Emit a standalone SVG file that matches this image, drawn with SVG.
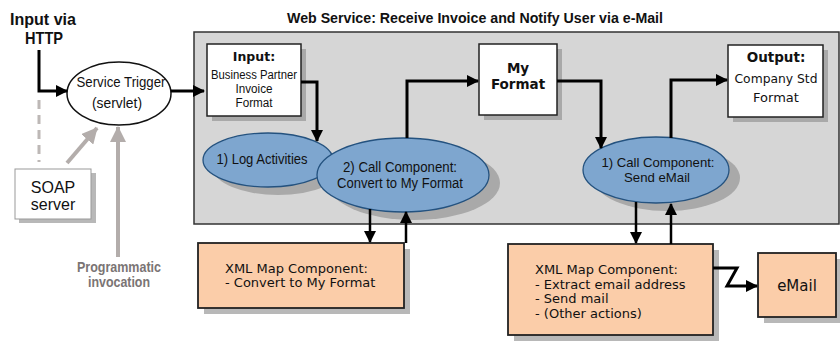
<svg xmlns="http://www.w3.org/2000/svg" width="840" height="341" viewBox="0 0 840 341">
<style>
.lbl{font-family:"Liberation Sans",Arial,sans-serif;fill:#111}
.ver{font-family:"DejaVu Sans",Verdana,sans-serif;fill:#111}
.box{fill:#fff;stroke:#222;stroke-width:1.5}
.obox{fill:#fbcda9;stroke:#222;stroke-width:1.8}
.sh{fill:#a9a9a9}
.shw{fill:#b8b8b8}
.ell{fill:#7ea6cf;stroke:#24527f;stroke-width:1.3}
.con{fill:none;stroke:#000;stroke-width:3}
.con2{fill:none;stroke:#000;stroke-width:2.5}
.gcon{fill:none;stroke:#b3adab;stroke-width:4}
</style>
<defs>
<marker id="ah" markerUnits="userSpaceOnUse" markerWidth="12" markerHeight="12" refX="11" refY="6" orient="auto"><path d="M0,0 L12,6 L0,12 z" fill="#000"/></marker>
<marker id="ahg" markerUnits="userSpaceOnUse" markerWidth="16" markerHeight="16" refX="15" refY="8" orient="auto"><path d="M0,0 L16,8 L0,16 z" fill="#b3adab"/></marker>
</defs>
<rect width="840" height="341" fill="#fff"/>
<g id="title">
<text class="lbl" x="287" y="23" font-size="15" font-weight="bold" textLength="376" lengthAdjust="spacingAndGlyphs">Web Service: Receive Invoice and Notify User via e-Mail</text>
</g>
<g id="panel">
<rect x="194" y="32" width="645" height="192" fill="#d6d6d6" stroke="#333" stroke-width="1.5"/>
</g>
<g id="input-http">
<text class="lbl" x="10" y="25" font-size="17" font-weight="bold" textLength="66" lengthAdjust="spacingAndGlyphs">Input via</text>
<text class="lbl" x="25" y="44" font-size="17" font-weight="bold" textLength="38" lengthAdjust="spacingAndGlyphs">HTTP</text>
</g>
<g id="service-trigger">
<ellipse cx="119" cy="93.5" rx="52" ry="31.5" fill="#fff" stroke="#111" stroke-width="1.5"/>
<text class="lbl" x="121" y="87" font-size="15" text-anchor="middle" textLength="89" lengthAdjust="spacingAndGlyphs">Service Trigger</text>
<text class="lbl" x="117" y="108" font-size="15" text-anchor="middle" textLength="50" lengthAdjust="spacingAndGlyphs">(servlet)</text>
</g>
<g id="soap-server">
<rect class="shw" x="19" y="173" width="77" height="50"/>
<rect x="15" y="169" width="76" height="50" fill="#fff" stroke="#999" stroke-width="1"/>
<text class="lbl" x="53" y="193" font-size="16" text-anchor="middle">SOAP</text>
<text class="lbl" x="53" y="210" font-size="16" text-anchor="middle">server</text>
</g>
<g id="programmatic">
<text class="lbl" x="119" y="272" font-size="14" font-weight="bold" text-anchor="middle" style="fill:#7a7474" textLength="84" lengthAdjust="spacingAndGlyphs">Programmatic</text>
<text class="lbl" x="119" y="287" font-size="14" font-weight="bold" text-anchor="middle" style="fill:#7a7474" textLength="62" lengthAdjust="spacingAndGlyphs">invocation</text>
</g>
<g id="input-box">
<rect class="sh" x="212" y="49" width="94" height="72"/>
<rect class="box" x="207" y="44" width="94" height="72"/>
<text class="ver" x="254" y="61" font-size="12.5" font-weight="bold" text-anchor="middle">Input:</text>
<text class="lbl" x="254" y="79" font-size="12" text-anchor="middle" textLength="86" lengthAdjust="spacingAndGlyphs">Business Partner</text>
<text class="lbl" x="254" y="93" font-size="12" text-anchor="middle" textLength="37" lengthAdjust="spacingAndGlyphs">Invoice</text>
<text class="lbl" x="254" y="107" font-size="12" text-anchor="middle" textLength="37" lengthAdjust="spacingAndGlyphs">Format</text>
</g>
<g id="my-format">
<rect class="sh" x="484" y="49" width="78" height="71"/>
<rect class="box" x="479" y="44" width="78" height="71"/>
<text class="ver" x="518" y="73" font-size="13.5" font-weight="bold" text-anchor="middle">My</text>
<text class="ver" x="518" y="89" font-size="13.5" font-weight="bold" text-anchor="middle">Format</text>
</g>
<g id="output-box">
<rect class="sh" x="733" y="50" width="95" height="72"/>
<rect class="box" x="728" y="45" width="95" height="72"/>
<text class="ver" x="776" y="62" font-size="13.5" font-weight="bold" text-anchor="middle">Output:</text>
<text class="ver" x="776" y="83" font-size="13" text-anchor="middle" textLength="83" lengthAdjust="spacingAndGlyphs">Company Std</text>
<text class="ver" x="776" y="102" font-size="13" text-anchor="middle">Format</text>
</g>
<g id="log-activities">
<ellipse class="sh" cx="278" cy="168" rx="65" ry="27"/>
<ellipse class="ell" cx="268" cy="160" rx="65" ry="27"/>
<text class="lbl" x="262" y="164" font-size="15" text-anchor="middle" textLength="91" lengthAdjust="spacingAndGlyphs">1) Log Activities</text>
</g>
<g id="call-convert">
<ellipse class="sh" cx="414" cy="183" rx="86" ry="37"/>
<ellipse class="ell" cx="403" cy="175" rx="86" ry="37"/>
<text class="lbl" x="400" y="172" font-size="14" text-anchor="middle" textLength="114" lengthAdjust="spacingAndGlyphs">2) Call Component:</text>
<text class="lbl" x="400" y="188" font-size="14" text-anchor="middle" textLength="126" lengthAdjust="spacingAndGlyphs">Convert to My Format</text>
</g>
<g id="call-send">
<ellipse class="sh" cx="667" cy="178" rx="73" ry="33"/>
<ellipse class="ell" cx="656" cy="170" rx="73" ry="33"/>
<text class="lbl" x="658" y="167" font-size="13" text-anchor="middle" textLength="113" lengthAdjust="spacingAndGlyphs">1) Call Component:</text>
<text class="lbl" x="657" y="182" font-size="13" text-anchor="middle" textLength="66" lengthAdjust="spacingAndGlyphs">Send eMail</text>
</g>
<g id="xml-convert">
<rect class="shw" x="204" y="249" width="206" height="65"/>
<rect class="obox" x="198" y="243" width="206" height="65"/>
<text class="ver" x="225" y="273" font-size="13">XML Map Component:</text>
<text class="ver" x="225" y="287" font-size="13">- Convert to My Format</text>
</g>
<g id="xml-email">
<rect class="shw" x="514" y="250" width="205" height="91"/>
<rect class="obox" x="508" y="244" width="205" height="91"/>
<text class="ver" x="535" y="274" font-size="13">XML Map Component:</text>
<text class="ver" x="535" y="288.5" font-size="13">- Extract email address</text>
<text class="ver" x="535" y="303" font-size="13">- Send mail</text>
<text class="ver" x="535" y="317.5" font-size="13">- (Other actions)</text>
</g>
<g id="email">
<rect class="shw" x="764" y="259" width="76" height="64"/>
<rect class="obox" x="758" y="253" width="78" height="64"/>
<text class="ver" x="797" y="291" font-size="15" text-anchor="middle">eMail</text>
</g>
<g id="connectors">
<path class="con" d="M39,50 V91 H67" marker-end="url(#ah)"/>
<path d="M39,100 V162" fill="none" stroke="#bdb8b6" stroke-width="3" stroke-dasharray="9,6"/>
<path class="gcon" d="M67,163 L97,128" marker-end="url(#ahg)"/>
<path class="gcon" d="M118,257 V127" marker-end="url(#ahg)"/>
<path class="con" d="M171,91 H204" marker-end="url(#ah)"/>
<path class="con" d="M301,82 H317 V141" marker-end="url(#ah)"/>
<path class="con" d="M407,138 V81 H478" marker-end="url(#ah)"/>
<path class="con" d="M557,81 H601 V148" marker-end="url(#ah)"/>
<path class="con" d="M671,138 V80 H727" marker-end="url(#ah)"/>
<path class="con2" d="M370,209 V242" marker-end="url(#ah)"/>
<path class="con2" d="M406,243 V212" marker-end="url(#ah)"/>
<path class="con2" d="M636,202 V243" marker-end="url(#ah)"/>
<path class="con2" d="M671,244 V204" marker-end="url(#ah)"/>
<path class="con" d="M713,268 H737 L727,286 H757" marker-end="url(#ah)"/>
</g>
</svg>
